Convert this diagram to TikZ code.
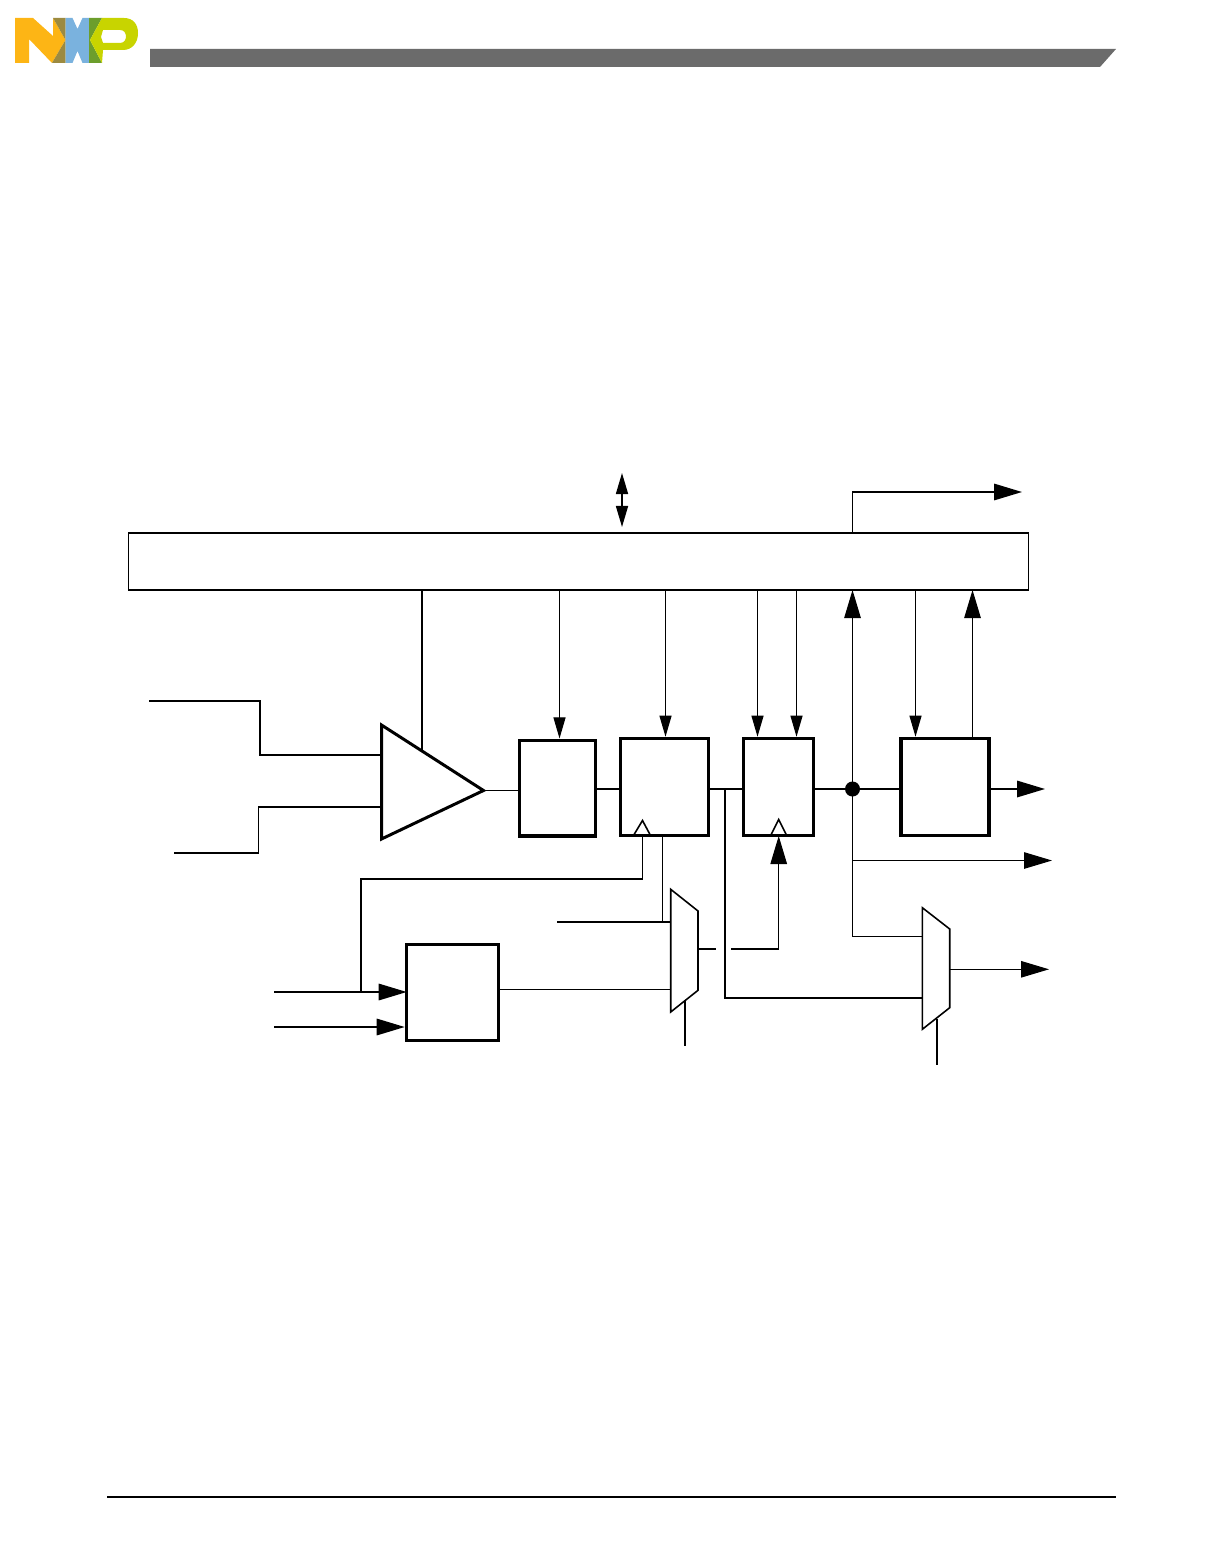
\documentclass[tikz,border=0pt]{standalone}
\usetikzlibrary{arrows.meta}
\definecolor{barGray}{HTML}{6B6B6B}
\definecolor{nxpOrange}{HTML}{FDB515}
\definecolor{nxpBrown}{HTML}{9C8A40}
\definecolor{nxpBlue}{HTML}{7AB2DE}
\definecolor{nxpGreen}{HTML}{6C9E2C}
\definecolor{nxpLime}{HTML}{C8D400}
\tikzset{
  blockbox/.style={draw,line width=0.9pt,inner sep=0pt,outer sep=0pt},
  thinwire/.style={line width=0.3pt},
  wire/.style={line width=0.45pt},
  bigtip/.style={-{Triangle[length=0.28cm,width=0.165cm]}},
  smalltip/.style={-{Triangle[length=0.21cm,width=0.12cm]}},
}
\begin{document}
\begin{tikzpicture}[x=0.01cm,y=-0.01cm]%
\useasboundingbox (0,0) rectangle (1224,1555);
% page furniture
\fill[nxpOrange] (15,18) -- (33,18) -- (53,36) -- (53,18) -- (65.5,40) -- (52,63) -- (29,39) -- (29,63) -- (15,63) -- cycle;
\fill[nxpBrown] (53,18) -- (65.5,18) -- (65.5,40) -- cycle;
\fill[nxpBrown] (52,63) -- (65.5,63) -- (65.5,40) -- cycle;
\fill[nxpBlue] (65.5,18) -- (72.5,18) -- (77.5,29) -- (82.5,18) -- (89,18) -- (89,63) -- (82.5,63) -- (77.5,51) -- (72.5,63) -- (65.5,63) -- cycle;
\fill[nxpGreen] (89,18) -- (102,18) -- (90,40) -- (102,63) -- (89,63) -- cycle;
\fill[nxpLime,even odd rule] (102,18) -- (124,18) .. controls (133,18) and (138,24) .. (138,33)
  .. controls (138,43) and (132,50) .. (123,50) -- (103,50) -- (102,63) -- (90,40) -- cycle
  (103,30) -- (120,30) .. controls (124,30) and (126,33) .. (126,36.5)
  .. controls (126,40) and (124,43) .. (120,43) -- (103,43) -- (101,37) -- cycle;
\fill[barGray] (150,49) -- (1116,49) -- (1100,67) -- (150,67) -- cycle;
\draw[thinwire] (107,1497) -- (1116,1497);
% blocks
\node[blockbox,line width=0.42pt,minimum width=8.995cm,minimum height=0.57cm] (ctrlreg) at (578.7,561.5) {};
\draw[line width=0.5pt] (ctrlreg.north west) -- (ctrlreg.north east);
\node[blockbox,minimum width=0.765cm,minimum height=0.955cm] (filt) at (557.5,788.25) {};
\node[blockbox,minimum width=0.875cm,minimum height=0.965cm] (latch) at (664.5,787) {};
\node[blockbox,minimum width=0.705cm,minimum height=0.965cm] (hold) at (778.5,787) {};
\node[blockbox,minimum width=0.88cm,minimum height=0.965cm] (drv) at (945,787) {};
\node[blockbox,minimum width=0.915cm,minimum height=0.96cm] (clkdiv) at (452.5,992.3) {};
% comparator
\coordinate (cmpA) at (381.5,725);
\coordinate (cmpB) at (483.5,790.5);
\coordinate (cmpC) at (381.5,839);
\draw[line width=0.85pt] (cmpA) -- (cmpB) -- (cmpC) -- cycle;
% muxes
\coordinate (muxoneA) at (670.7,889.3);
\coordinate (muxoneB) at (698,911);
\coordinate (muxoneC) at (698,990.3);
\coordinate (muxoneD) at (670.7,1012);
\draw[wire] (muxoneA) -- (muxoneB) -- (muxoneC) -- (muxoneD) -- cycle;
\coordinate (muxtwoA) at (922.3,907.7);
\coordinate (muxtwoB) at (949.7,929);
\coordinate (muxtwoC) at (949.7,1007.7);
\coordinate (muxtwoD) at (922.3,1029.3);
\draw[wire] (muxtwoA) -- (muxtwoB) -- (muxtwoC) -- (muxtwoD) -- cycle;
% clock marks
\coordinate (latchclk) at (642.5,835.5);
\coordinate (holdclk) at (778.7,835.5);
\draw[wire] ([shift={(-9,0)}]latchclk) -- ([shift={(0,-15)}]latchclk) -- ([shift={(8,0)}]latchclk);
\draw[wire] ([shift={(-8,0)}]holdclk) -- ([shift={(0,-16)}]holdclk) -- ([shift={(8,0)}]holdclk);
% bus and status
\coordinate (busmid) at (622,500);
\coordinate (bustop) at (622,473);
\coordinate (busbot) at (622,527);
\draw[wire,smalltip] (busmid) -- (bustop);
\draw[wire,smalltip] (busmid) -- (busbot);
\coordinate (irqfrom) at (852.5,533);
\coordinate (irqout) at (1022,492);
\draw[wire,bigtip] (irqfrom) |- (irqout);
% control lines
\coordinate (ctlcmp) at (422,590);
\draw[wire] (ctlcmp) -- (422,750);
\foreach \ctlname/\ctlx/\ctlto in {ctlfilt/559.5/filt,ctllatch/665.5/latch,ctlholdA/757.5/hold,ctlholdB/796.5/hold,ctldrv/915.5/drv}{
  \coordinate (\ctlname) at (\ctlx,590);
  \draw[thinwire,smalltip] (\ctlname) -- ([shift={(0,-2)}]\ctlname |- \ctlto.north);
}
\coordinate (retdrv) at (972.5,738.7);
\draw[thinwire,bigtip] (retdrv) -- (retdrv |- ctrlreg.south);
% comparator inputs
\coordinate (inP) at (149,701);
\coordinate (inPe) at (381.5,755);
\coordinate (inN) at (174,853);
\coordinate (inNe) at (381.5,807);
\draw[wire] (inP) -- (260,701) -- (260,755) -- (inPe);
\draw[wire] (inN) -- (258.5,853) -- (258.5,807) -- (inNe);
% main path
\coordinate (dotpt) at (852.5,789);
\draw[wire] (cmpB) -- (cmpB -| filt.west);
\draw[wire] (filt.east |- dotpt) -- (latch.west |- dotpt);
\draw[thinwire] (latch.east |- dotpt) -- (hold.west |- dotpt);
\draw[wire] (hold.east |- dotpt) -- (drv.west |- dotpt);
\fill (dotpt) circle (7.5);
\coordinate (drvout) at (1045,789);
\draw[wire,bigtip] (drv.east |- drvout) -- (drvout);
\draw[thinwire,bigtip] (dotpt) -- (dotpt |- ctrlreg.south);
\coordinate (tapout) at (1052,860.5);
\draw[thinwire,bigtip] (dotpt |- tapout) -- (tapout);
\coordinate (muxtwoin) at (922.3,936.5);
\draw[thinwire] (dotpt) |- (muxtwoin);
% latch output to second mux
\coordinate (bypass) at (725,788.5);
\coordinate (muxtwoinB) at (922.3,998);
\draw[wire] (bypass) |- (muxtwoinB);
\coordinate (muxtwoout) at (1049,969.3);
\draw[thinwire,bigtip] (muxtwoB |- muxtwoout) -- (muxtwoout);
\coordinate (seltwo) at (937,1019);
\draw[wire] (seltwo) -- (937,1065);
% clocks
\draw[wire] (latchclk) |- (361,879) -- (361,992);
\coordinate (clkinA) at (274,992);
\coordinate (clkinB) at (274,1027);
\draw[wire,bigtip] (clkinA) -- (clkdiv.west |- clkinA);
\draw[wire,bigtip] (clkinB) -- ([shift={(-2,0)}]clkdiv.west |- clkinB);
\coordinate (muxonein) at (670.7,989.5);
\draw[thinwire] (clkdiv.east |- muxonein) -- (muxonein);
\coordinate (extclk) at (557,922);
\coordinate (muxoneinB) at (670.7,922);
\draw[thinwire] (extclk) -- (muxoneinB);
\coordinate (latchtap) at (662.5,835.5);
\draw[thinwire] (latchtap) -- (latchtap |- muxoneinB);
\coordinate (selone) at (685,1001);
\draw[wire] (selone) -- (685,1045.5);
% first mux output, broken where it crosses
\coordinate (muxoneout) at (716,949);
\draw[wire] (muxoneB |- muxoneout) -- (muxoneout);
\coordinate (gapend) at (731,949);
\draw[wire] (gapend) -- (778.7,949);
\draw[thinwire,bigtip] (778.7,949) -- (778.7,836);
\end{tikzpicture}
\end{document}
